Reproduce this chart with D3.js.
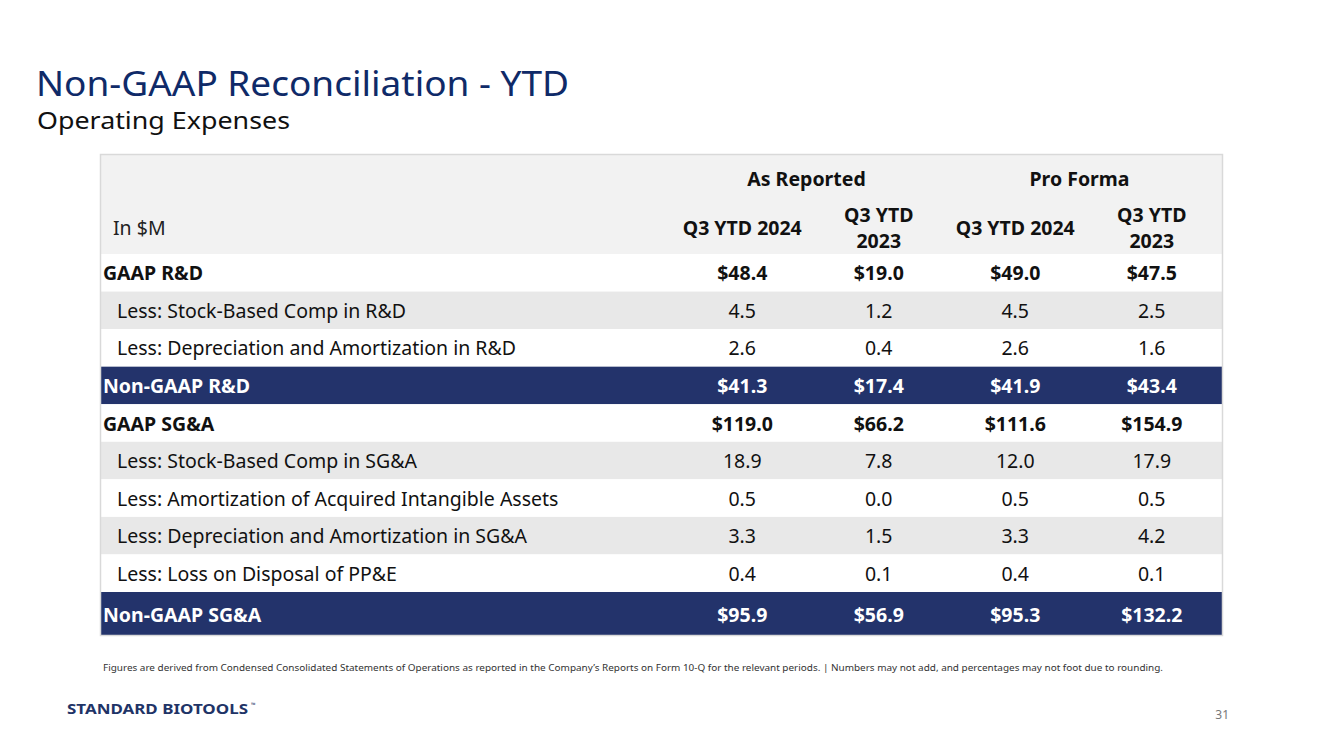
<!DOCTYPE html>
<html><head><meta charset="utf-8">
<script src="https://cdn.jsdelivr.net/npm/d3@7"></script>
<style>
html,body{margin:0;padding:0;background:#fff;}
svg{display:block;font-family:"Noto Sans",sans-serif;font-variant-ligatures:none;}
</style></head>
<body>
<script>
const title = "Non-GAAP Reconciliation - YTD";
const subtitle = "Operating Expenses";
const groups = ["As Reported", "Pro Forma"];
const columns = ["Q3 YTD 2024", "Q3 YTD\n2023", "Q3 YTD 2024", "Q3 YTD\n2023"];
const unitLabel = "In $M";
const rowLabels = [
  "GAAP R&D",
  "Less: Stock-Based Comp in R&D",
  "Less: Depreciation and Amortization in R&D",
  "Non-GAAP R&D",
  "GAAP SG&A",
  "Less: Stock-Based Comp in SG&A",
  "Less: Amortization of Acquired Intangible Assets",
  "Less: Depreciation and Amortization in SG&A",
  "Less: Loss on Disposal of PP&E",
  "Non-GAAP SG&A"
];
const rowTypes = ["gaap","less","less","total","gaap","less","less","less","less","total"];
const asReported2024 = ["$48.4","4.5","2.6","$41.3","$119.0","18.9","0.5","3.3","0.4","$95.9"];
const asReported2023 = ["$19.0","1.2","0.4","$17.4","$66.2","7.8","0.0","1.5","0.1","$56.9"];
const proForma2024   = ["$49.0","4.5","2.6","$41.9","$111.6","12.0","0.5","3.3","0.4","$95.3"];
const proForma2023   = ["$47.5","2.5","1.6","$43.4","$154.9","17.9","0.5","4.2","0.1","$132.2"];
const footnote = "Figures are derived from Condensed Consolidated Statements of Operations as reported in the Company\u2019s Reports on Form 10-Q for the relevant periods. | Numbers may not add, and percentages may not foot due to rounding.";
const logoText = "STANDARD BIOTOOLS";
const pageNumber = "31";

const W = 1333, H = 749;
const navy = "#23336b";
const svg = d3.select("body").append("svg").attr("width", W).attr("height", H);

// Title
svg.append("text").attr("x", 36).attr("y", 96).attr("fill", "#0f2a68")
  .attr("font-size", 34).attr("textLength", 533).attr("lengthAdjust", "spacingAndGlyphs").text(title);
svg.append("text").attr("x", 37).attr("y", 129).attr("fill", "#111")
  .attr("font-size", 23).attr("textLength", 253).attr("lengthAdjust", "spacingAndGlyphs").text(subtitle);

// Table geometry
const tableX0 = 100, tableX1 = 1223, tableY0 = 154, headerY1 = 254, lastRowY = 592, tableY1 = 636;
const nBody = rowLabels.length - 1;
const y = d3.scaleBand().domain(d3.range(nBody)).range([headerY1, lastRowY]).padding(0);
const rowTop = i => i < nBody ? y(i) : lastRowY;
const rowH = i => i < nBody ? y.bandwidth() : tableY1 - lastRowY;
const rowMid = i => rowTop(i) + rowH(i) / 2;
const x = d3.scaleBand().domain(d3.range(columns.length)).range([674, 1220]);
const values = [asReported2024, asReported2023, proForma2024, proForma2023];

svg.append("rect").attr("x", tableX0).attr("y", tableY0).attr("width", tableX1 - tableX0)
  .attr("height", headerY1 - tableY0).attr("fill", "#f2f2f2");

const fillFor = (t, i) => t === "total" ? navy : (i === 1 || i === 5 || i === 7 ? "#e8e8e8" : "#ffffff");
svg.selectAll("rect.row").data(rowLabels).join("rect").attr("class", "row")
  .attr("x", tableX0).attr("y", (d, i) => rowTop(i)).attr("width", tableX1 - tableX0)
  .attr("height", (d, i) => rowH(i)).attr("fill", (d, i) => fillFor(rowTypes[i], i));

svg.append("rect").attr("x", tableX0 + 0.5).attr("y", tableY0 + 0.5)
  .attr("width", tableX1 - tableX0 - 1).attr("height", tableY1 - tableY0 - 1)
  .attr("fill", "none").attr("stroke", "#d9d9d9").attr("stroke-width", 1.5);

const FS = 19.5, BASE = 7.5;
groups.forEach((g, gi) => {
  const cx = (x(gi * 2) + x(gi * 2 + 1) + x.bandwidth()) / 2 - 4;
  svg.append("text").attr("x", cx).attr("y", 186).attr("text-anchor", "middle")
    .attr("font-size", FS).attr("font-weight", 700).attr("fill", "#111").text(g);
});
svg.append("text").attr("x", 113).attr("y", 235).attr("font-size", FS).attr("fill", "#222").text(unitLabel);
columns.forEach((c, ci) => {
  const lines = c.split("\n");
  const cx = x(ci) + x.bandwidth() / 2;
  const t = svg.append("text").attr("text-anchor", "middle").attr("font-size", FS)
    .attr("font-weight", 700).attr("fill", "#111");
  if (lines.length === 1) {
    t.append("tspan").attr("x", cx).attr("y", 235).text(lines[0]);
  } else {
    lines.forEach((l, li) => t.append("tspan").attr("x", cx).attr("y", 222 + li * 26).text(l));
  }
});

svg.selectAll("text.label").data(rowLabels).join("text").attr("class", "label")
  .attr("x", (d, i) => rowTypes[i] === "less" ? 117 : 103)
  .attr("y", (d, i) => rowMid(i) + BASE)
  .attr("font-size", FS)
  .attr("font-weight", (d, i) => rowTypes[i] === "less" ? 400 : 700)
  .attr("fill", (d, i) => rowTypes[i] === "total" ? "#fff" : "#111")
  .text(d => d);

values.forEach((col, ci) => {
  svg.selectAll("text.v" + ci).data(col).join("text").attr("class", "v" + ci)
    .attr("x", x(ci) + x.bandwidth() / 2)
    .attr("y", (d, i) => rowMid(i) + BASE)
    .attr("text-anchor", "middle").attr("font-size", FS)
    .attr("font-weight", (d, i) => rowTypes[i] === "less" ? 400 : 700)
    .attr("fill", (d, i) => rowTypes[i] === "total" ? "#fff" : "#111")
    .text(d => d);
});

svg.append("text").attr("x", 103).attr("y", 671).attr("font-size", 9.6).attr("fill", "#333")
  .attr("textLength", 1060).attr("lengthAdjust", "spacingAndGlyphs").text(footnote);

svg.append("text").attr("x", 67).attr("y", 714).attr("font-size", 14).attr("font-weight", 700)
  .attr("textLength", 181).attr("lengthAdjust", "spacingAndGlyphs").attr("fill", "#1f3467").text(logoText);
svg.append("text").attr("x", 251).attr("y", 707).attr("font-size", 6).attr("fill", "#1f3467").text("\u2122");

svg.append("text").attr("x", 1229).attr("y", 719).attr("text-anchor", "end").attr("font-size", 12)
  .attr("fill", "#777").text(pageNumber);
</script>
</body></html>
